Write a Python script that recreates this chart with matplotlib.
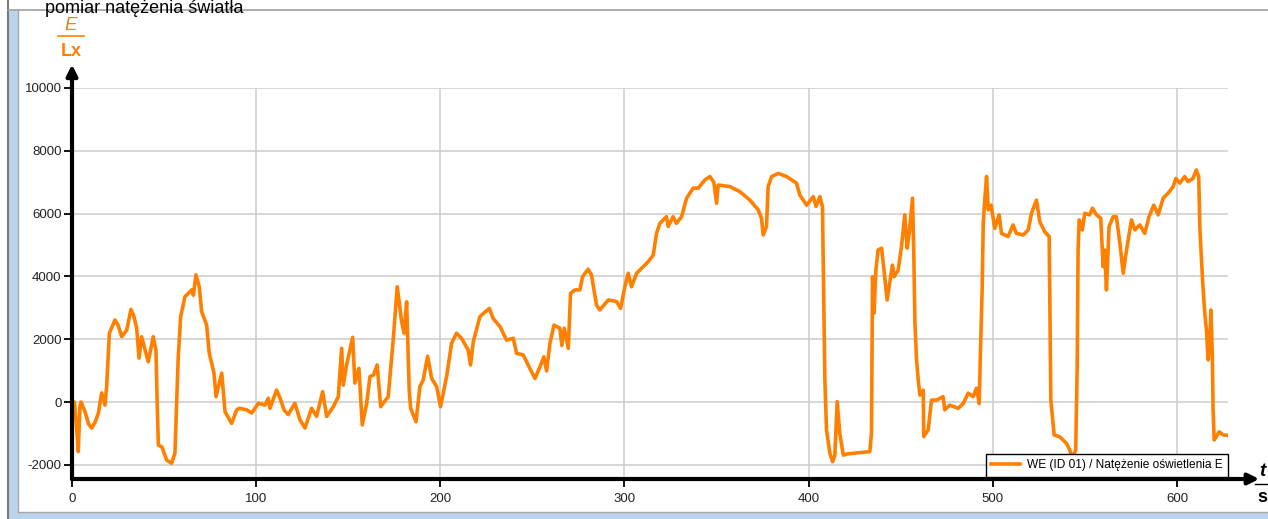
import matplotlib
matplotlib.use("Agg")
import matplotlib.pyplot as plt
from matplotlib.lines import Line2D
from matplotlib.patches import Rectangle

plt.rcParams['font.family'] = ['Liberation Sans', 'DejaVu Sans']

# ---- data (time in s, illuminance in Lx) ----
t = [0.5, 1.3, 2.2, 3.4, 4.3, 4.9, 7, 9, 10.7, 12.5, 14.3, 16.1, 17.9, 18.8, 20.3, 23.3, 25, 27, 29.7, 32,
     33.5, 35.1, 36.4, 37.8, 39.5, 41.4, 42.8, 44.1, 45.6, 46.3, 46.9, 48.8, 51.4, 54.1, 55.9, 56.8, 57.7, 59,
     61.3, 63, 65, 65.9, 67.3, 69.1, 70.4, 73.1, 74.5, 77.1, 78.2, 80, 81.3, 83.1, 86.7, 89.4, 91, 94.8, 97.6,
     101.2, 104.8, 106.6, 107.5, 111.1, 113, 115.1, 117.4, 121, 123.8, 126.5, 130.1, 132.8, 136.1, 138.3,
     141.9, 144.6, 146.4, 147.3, 149.1, 152.4, 153.6, 155.8, 157.6, 160, 161.8, 163.7, 165.7, 167.6, 171.7,
     174.4, 176.6, 179, 180.3, 181.7, 183.1, 183.9, 186.8, 188.9, 190.7, 193.1, 195.3, 198, 200.1, 203.4,
     206.1, 208.8, 211.5, 215.1, 216.4, 217.9, 221.5, 224, 226.6, 228.7, 232.4, 236, 239.6, 241.4, 245,
     248.6, 251.4, 254.1, 256.2, 257.7, 259.5, 261.7, 264.9, 266, 267.3, 269.5, 270.7, 273.1, 275.8, 277.2,
     280.3, 282.1, 284.8, 286.6, 291.2, 295.7, 297.9, 300.2, 302, 303.8, 306.6, 309.3, 312.9, 315.6, 317.4,
     319.2, 322.8, 323.7, 326.4, 328.2, 331, 333.7, 337.3, 340, 343.6, 346.4, 348.5, 350, 350.9, 357.2,
     362.6, 368.1, 372.6, 374.4, 375.3, 377.1, 378, 379.9, 383.5, 388, 393.4, 395.2, 398.9, 402.5, 404,
     406.1, 407.5, 407.9, 408.3, 408.8, 409.7, 411.5, 413, 414.2, 415.5, 416.9, 418.8, 421.2, 433.2, 434.1,
     434.7, 435.5, 436.5, 437.7, 439.6, 440.9, 442.6, 445.5, 446.4, 448.6, 450.4, 452.2, 453.5, 454.7,
     456.4, 457.1, 457.7, 458.6, 459.5, 460.4, 462.2, 462.5, 464.9, 466.7, 469.4, 473, 473.9, 476.6, 481.2,
     483.9, 486.6, 489.3, 491.1, 492.6, 493.3, 494.2, 494.8, 495.6, 496.6, 497.5, 498.4, 499, 501.1, 503.4,
     504.7, 508.3, 511, 512.8, 516.5, 519.2, 521, 523.7, 525.5, 528.2, 530.6, 530.9, 531.5, 533.3, 536.4,
     540, 541.8, 543, 545, 545.8, 546.3, 546.9, 548.6, 549.9, 552.6, 554.1, 556.3, 558.6, 559.9, 560.7,
     561.7, 563.1, 565.3, 567.1, 569, 570.8, 572.6, 575.3, 577.1, 579.8, 582.5, 584.8, 587.4, 589.8, 592.5,
     595.2, 597.9, 599.4, 601.5, 604.2, 606, 608.7, 610.5, 611.8, 612.4, 613.3, 614.2, 615.1, 616, 616.9,
     617.8, 618.4, 619.2, 619.6, 620.2, 621.4, 622.9, 625.1, 627.7]
E = [-100, 0, -600, -1580, -150, 0, -300, -700, -830, -650, -360, 290, -100, 490, 2190, 2610, 2450, 2080, 2290, 2950,
     2750, 2360, 1400, 2080, 1700, 1280, 1700, 2080, 1640, -150, -1370, -1430, -1850, -1950, -1630, -40, 1440, 2720,
     3350, 3450, 3570, 3400, 4050, 3670, 2880, 2450, 1560, 920, 170, 600, 920, -310, -680, -250, -200, -250, -350,
     -40, -100, 120, -200, 380, 120, -250, -400, -40, -570, -830, -200, -460, 330, -460,
     -150, 170, 1710, 540, 1180, 2060, 600, 1070, -730, -40, 810, 860, 1180, -150, 170,
     1970, 3670, 2560, 2190, 3190, 380, -200, -630, 490, 700, 1460, 750, 490, -150, 810,
     1870, 2190, 2030, 1660, 1180, 1920, 2720, 2850, 2980, 2660, 2400, 1970, 2030, 1550, 1500,
     1070, 750, 1120, 1440, 990, 1870, 2450, 2350, 1800, 2350, 1710, 3460, 3570, 3570, 3990,
     4230, 4040, 3090, 2930, 3250, 3200, 2980, 3670, 4100, 3670, 4100, 4260, 4470, 4680, 5370,
     5690, 5900, 5590, 5900, 5690, 5900, 6490, 6810, 6810, 7070, 7180, 7000, 6330, 6910, 6860,
     6700, 6430, 6120, 5850, 5320, 5590, 6860, 7180, 7280, 7180, 6970, 6590, 6270, 6540, 6230,
     6540, 6220, 4520, 2830, 700, -890, -1630, -1900, -1700, 10, -1000, -1690, -1650, -1580, -1000,
     3990, 2830, 4200, 4840, 4900, 4200, 3250, 4360, 3990, 4200, 4950, 5960, 4900, 5440,
     6490, 4690, 2510, 1340, 700, 220, 380, -1100, -890, 60, 60, 170, -250, -100, -200,
     -50, 280, 170, 440, -50, 1660, 3570, 5690, 6430, 7180, 6120, 6170, 6270, 5530, 5960,
     5370, 5270, 5640, 5370, 5320, 5480, 6010, 6430, 5740, 5420, 5270, 3460, 60, -1050, -1110,
     -1320, -1530, -1800, -1530, 1120, 4840, 5800, 5480, 6010, 5960, 6170, 5960, 5850, 4310, 4840,
     3570, 5580, 5900, 5900, 5050, 4100, 4840, 5800, 5480, 5640, 5370, 5900, 6270, 5960, 6490,
     6650, 6860, 7120, 6970, 7180, 7020, 7120, 7390, 7180, 5580, 4520, 3570, 2830, 2290, 1340,
     1870, 2930, 1490, -250, -1210, -1100, -950, -1050, -1060]

x_ticks = [0, 100, 200, 300, 400, 500, 600]
y_ticks = [-2000, 0, 2000, 4000, 6000, 8000, 10000]
series_label = "WE (ID 01) / Natężenie oświetlenia E"
title = "pomiar natężenia światła"

ORANGE = '#ff8000'
W, H = 1268, 519

fig = plt.figure(figsize=(W / 100, H / 100), dpi=100)
fig.patch.set_facecolor('white')

def fx(px):
    return px / W

def fy(py):
    return 1 - py / H

# window chrome
fig.patches.append(Rectangle((fx(9), 0), fx(9), fy(10), transform=fig.transFigure,
                             facecolor='#bcd3ec', edgecolor='none', zorder=0))
fig.patches.append(Rectangle((fx(9), 0), 1, fy(512), transform=fig.transFigure,
                             facecolor='#bcd3ec', edgecolor='none', zorder=0))
fig.lines.append(Line2D([fx(8), fx(8)], [0, 1], transform=fig.transFigure, color='#7a7a7a', lw=1.5))
fig.lines.append(Line2D([fx(18), fx(18)], [fy(512), fy(10)], transform=fig.transFigure, color='#a8a8a8', lw=1))
fig.lines.append(Line2D([fx(8), 1], [fy(10), fy(10)], transform=fig.transFigure, color='#a0a0a0', lw=1.2))
fig.lines.append(Line2D([fx(18), 1], [fy(512), fy(512)], transform=fig.transFigure, color='#a8a8a8', lw=1))

ax = fig.add_axes([fx(72), fy(479), fx(1228) - fx(72), fy(88) - fy(479)])
ax.set_facecolor('white')
ax.plot(t, E, color=ORANGE, lw=2.6, label=series_label, zorder=3)

ax.set_xlim(0, 627.7)
ax.set_ylim(-2452, 10000)
ax.set_xticks(x_ticks)
ax.set_yticks(y_ticks)
ax.set_xticklabels([str(v) for v in x_ticks])
ax.set_yticklabels([str(v) for v in y_ticks])
ax.grid(True, color='#cccccc', lw=1.1)
ax.set_axisbelow(True)
for s in ax.spines.values():
    s.set_visible(False)
ax.tick_params(axis='both', direction='out', length=6, width=1.3, color='black',
               labelsize=9.5, labelcolor='#222222')
ax.tick_params(axis='y', pad=1.5)
ax.tick_params(axis='x', pad=4)

# axis arrows
ax.annotate('', xy=(0, 1.06), xytext=(0, 0), xycoords='axes fraction',
            arrowprops=dict(arrowstyle='-|>', lw=3, color='black', mutation_scale=16,
                            shrinkA=0, shrinkB=0), annotation_clip=False, zorder=5)
ax.annotate('', xy=(1.027, 0), xytext=(0, 0), xycoords='axes fraction',
            arrowprops=dict(arrowstyle='-|>', lw=3, color='black', mutation_scale=16,
                            shrinkA=0, shrinkB=0), annotation_clip=False, zorder=5)

leg = ax.legend(loc='lower right', bbox_to_anchor=(1.0, 0.006), borderaxespad=0,
                fancybox=False, framealpha=1, edgecolor='black', fontsize=8.6,
                handlelength=2.4, handletextpad=0.6, borderpad=0.45)
leg.get_frame().set_linewidth(1.0)
leg.set_zorder(6)

# axis unit labels
fig.text(fx(71), fy(25), 'E', color=ORANGE, fontsize=13.5, style='italic', ha='center', va='center')
fig.lines.append(Line2D([fx(58), fx(84)], [fy(36), fy(36)], transform=fig.transFigure, color=ORANGE, lw=1.2))
fig.text(fx(71), fy(52), 'Lx', color=ORANGE, fontsize=13, weight='bold', ha='center', va='center')

fig.text(fx(1262), fy(471), 't', color='black', fontsize=13.5, style='italic', weight='bold', ha='center', va='center')
fig.lines.append(Line2D([fx(1255), 1], [fy(484), fy(484)], transform=fig.transFigure, color='black', lw=1))
fig.text(fx(1262), fy(498), 's', color='black', fontsize=13, weight='bold', ha='center', va='center')

fig.text(fx(45), 1.0, title, fontsize=13, color='black', ha='left', va='top')

fig.savefig('out.png', dpi=100)
